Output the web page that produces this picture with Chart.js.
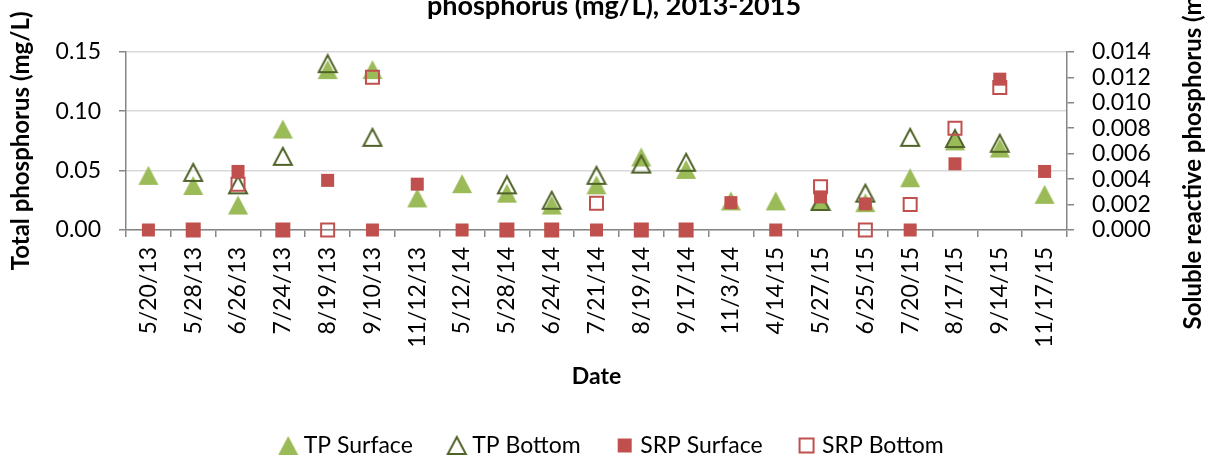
<!DOCTYPE html>
<html>
<head>
<meta charset="utf-8">
<script src="https://cdn.jsdelivr.net/npm/chart.js@4.4.1/dist/chart.umd.min.js"></script>
<style>
  html, body { margin: 0; padding: 0; background: #fff; overflow: hidden; width: 1217px; height: 466px; }
  #wrap { position: absolute; left: 0; top: -37px; width: 1240px; height: 504px; }
</style>
</head>
<body>
<div id="wrap"><canvas id="phChart" width="1240" height="504"></canvas></div>
<script>
// sampling dates
const dates = ['5/20/13', '5/28/13', '6/26/13', '7/24/13', '8/19/13', '9/10/13', '11/12/13',
  '5/12/14', '5/28/14', '6/24/14', '7/21/14', '8/19/14', '9/17/14', '11/3/14',
  '4/14/15', '5/27/15', '6/25/15', '7/20/15', '8/17/15', '9/14/15', '11/17/15'];

// total phosphorus (mg/L), left axis
const tpSurface = [0.046, 0.0375, 0.021, 0.085, 0.135, 0.135, 0.027, 0.039, 0.031, 0.021, 0.038,
  0.0615, 0.051, 0.0245, 0.0245, 0.024, 0.023, 0.044, 0.075, 0.069, 0.030];
const tpBottom = [null, 0.0485, 0.038, 0.062, 0.140, 0.078, null, null, 0.038, 0.025, 0.046,
  0.0555, 0.057, null, null, 0.024, 0.031, 0.078, 0.077, 0.073, null];

// soluble reactive phosphorus (mg/L), right axis
const srpSurface = [0, 0, 0.0046, 0, 0.0039, 0, 0.0036, 0, 0, 0, 0,
  0, 0, 0.00215, 0, 0.0026, 0.00205, 0, 0.0052, 0.01185, 0.0046];
const srpBottom = [null, 0, 0.0036, 0, 0, 0.0120, null, null, 0, 0, 0.0021,
  0, 0, null, null, 0.0034, 0, 0.0020, 0.0080, 0.0112, null];

const tpRange = [0, 0.15, 0.05];
const srpRange = [0, 0.014, 0.002];

const titleLines = ['Total phosphorus and soluble reactive', 'phosphorus (mg/L), 2013-2015'];
const yTitle = 'Total phosphorus (mg/L)';
const y1Title = 'Soluble reactive phosphorus (mg/L)';

const green = '#9BBB59';
const olive = '#4F6228';
const red = '#C0504D';
const axisGray = '#868686';

// excel like triangles, centred on the value
function triangle(fill, stroke) {
  const c = document.createElement('canvas');
  c.width = 22; c.height = 21;
  const g = c.getContext('2d');
  g.beginPath();
  if (stroke) {
    g.moveTo(11, 2); g.lineTo(20, 19); g.lineTo(2, 19);
  } else {
    g.moveTo(11, 1); g.lineTo(21, 20); g.lineTo(1, 20);
  }
  g.closePath();
  if (fill) { g.fillStyle = fill; g.fill(); }
  if (stroke) { g.lineWidth = 2; g.strokeStyle = stroke; g.stroke(); }
  return c;
}
const triFull = triangle(green, null);
const triOpen = triangle(null, olive);

const rightTitle = {
  id: 'rightTitle',
  afterDraw(chart) {
    const s = chart.scales.y1;
    const ctx = chart.ctx;
    ctx.save();
    ctx.translate(s.left + 126, (s.top + s.bottom) / 2);
    ctx.rotate(-Math.PI / 2);
    ctx.font = 'bold 24px Lato';
    ctx.fillStyle = '#000';
    ctx.textAlign = 'center';
    ctx.textBaseline = 'middle';
    ctx.fillText(y1Title, 0, 0);
    ctx.restore();
  }
};

Chart.defaults.font.family = 'Lato';
Chart.defaults.color = '#000';

new Chart(document.getElementById('phChart'), {
  type: 'line',
  data: {
    labels: dates,
    datasets: [
      { label: 'TP Surface', data: tpSurface, yAxisID: 'y', showLine: false, order: 4, clip: false,
        pointStyle: triFull, pointRadius: 10, backgroundColor: green, borderColor: green },
      { label: 'TP Bottom', data: tpBottom, yAxisID: 'y', showLine: false, order: 3, clip: false,
        pointStyle: triOpen, pointRadius: 10, backgroundColor: 'rgba(0,0,0,0)', borderColor: olive },
      { label: 'SRP Surface', data: srpSurface, yAxisID: 'y1', showLine: false, order: 1, clip: false,
        pointStyle: 'rect', pointRadius: 9.2, backgroundColor: red, borderColor: red,
        borderWidth: 0, pointBorderWidth: 0 },
      { label: 'SRP Bottom', data: srpBottom, yAxisID: 'y1', showLine: false, order: 2, clip: false,
        pointStyle: 'rect', pointRadius: 9.2, backgroundColor: 'rgba(255,255,255,0)', borderColor: red,
        borderWidth: 2, pointBorderWidth: 2 }
    ]
  },
  options: {
    responsive: false,
    animation: false,
    events: [],
    layout: { padding: { right: 12 } },
    plugins: {
      title: {
        display: true,
        text: titleLines,
        font: { size: 27, weight: 'bold' },
        padding: { top: -5, bottom: 29 }
      },
      legend: {
        position: 'bottom',
        labels: {
          usePointStyle: true,
          boxWidth: 8,
          boxHeight: 14,
          padding: 40,
          font: { size: 23 },
          sort: (a, b) => a.datasetIndex - b.datasetIndex
        }
      },
      tooltip: { enabled: false }
    },
    scales: {
      x: {
        offset: true,
        grid: { offset: true, drawOnChartArea: false, tickLength: 7, color: axisGray, lineWidth: 1.5 },
        border: { color: axisGray, width: 1.5 },
        ticks: { autoSkip: false, minRotation: 90, maxRotation: 90, padding: 10, font: { size: 23 } },
        title: { display: true, text: 'Date', font: { size: 23, weight: 'bold' }, padding: { top: 0, bottom: 4 } },
        afterFit(s) { s.height = 164; }
      },
      y: {
        position: 'left',
        min: tpRange[0], max: tpRange[1],
        ticks: { stepSize: tpRange[2], autoSkip: false, padding: 18, font: { size: 23 }, callback: v => v.toFixed(2) },
        grid: { color: '#D9D9D9', lineWidth: 1.5, tickColor: axisGray, tickLength: 7 },
        border: { color: axisGray, width: 1.5 },
        title: { display: true, text: yTitle, font: { size: 24, weight: 'bold' }, padding: { top: 7, bottom: 0 } },
        afterFit(s) { s.width = 126; }
      },
      y1: {
        position: 'right',
        min: srpRange[0], max: srpRange[1],
        ticks: { stepSize: srpRange[2], autoSkip: false, padding: 18, font: { size: 23 }, callback: v => v.toFixed(3) },
        grid: { drawOnChartArea: false, tickColor: axisGray, tickLength: 7, lineWidth: 1.5 },
        border: { color: axisGray, width: 1.5 },
        afterFit(s) { s.width = 161; }
      }
    }
  },
  plugins: [rightTitle]
});
</script>
</body>
</html>
